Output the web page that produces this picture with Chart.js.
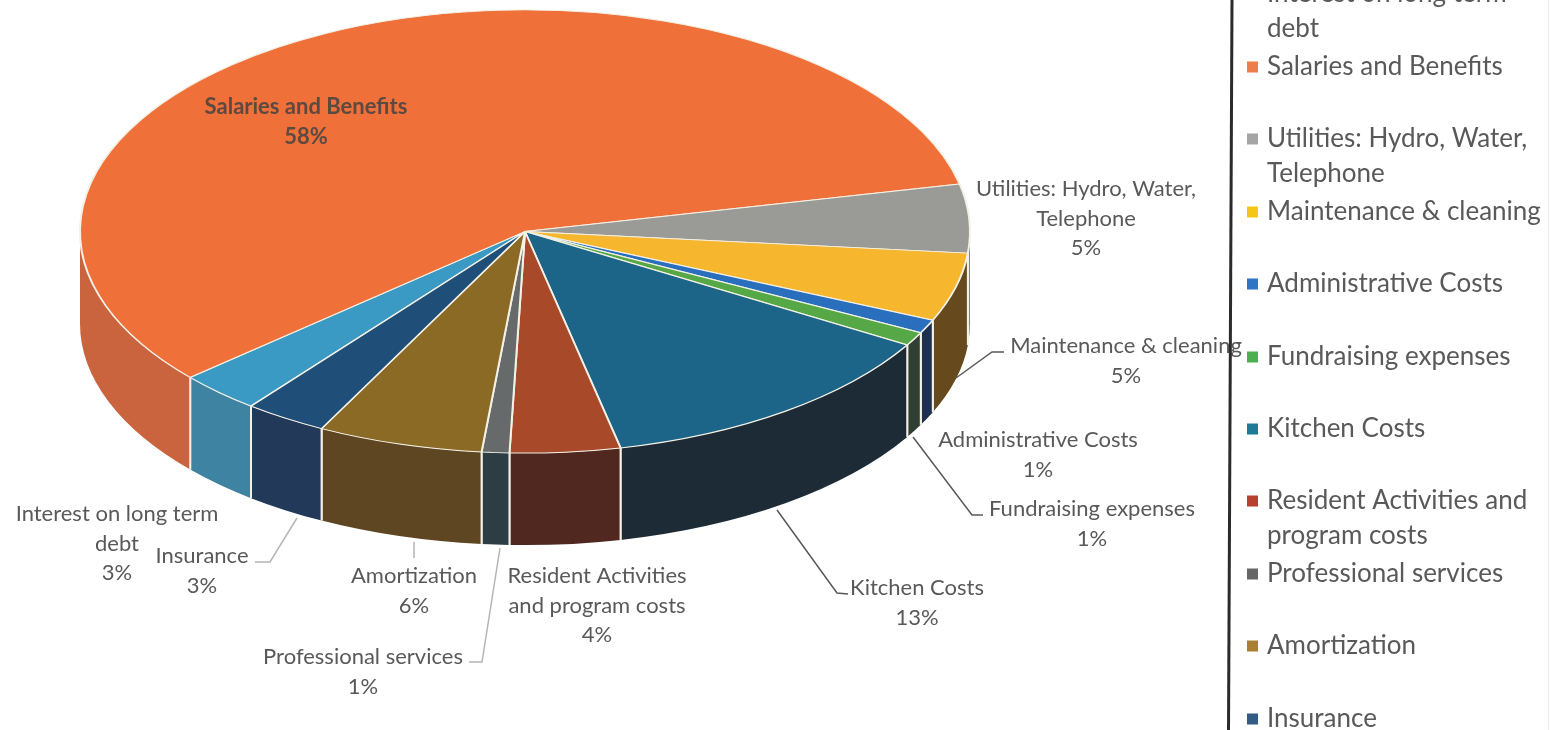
<!DOCTYPE html>
<html>
<head>
<meta charset="utf-8">
<title>Operating costs</title>
<script src="https://cdn.jsdelivr.net/npm/chart.js@4/dist/chart.umd.min.js"></script>
<style>
	html, body { margin: 0; padding: 0; background: #fff; overflow: hidden; }
	canvas { display: block; }
</style>
</head>
<body>
<canvas id="graph-costs" width="1550" height="730"></canvas>
<script>
// ** DATA: ** //

var categories = ['Interest on long term debt', 'Salaries and Benefits', 'Utilities: Hydro, Water, Telephone',
	'Maintenance & cleaning', 'Administrative Costs', 'Fundraising expenses', 'Kitchen Costs',
	'Resident Activities and program costs', 'Professional services', 'Amortization', 'Insurance'];
var percents = [3, 58, 5, 5, 1, 1, 13, 4, 1, 6, 3];

var topColors = ['#3a9ac3', '#f0703a', '#9a9a96', '#f6b62e', '#2a6fbd', '#55a845', '#1c6488', '#a8492a', '#666a6a', '#8a6a24', '#1f4e79'];
var wallColors = ['#3f83a2', '#c9643f', '#85857f', '#664a1d', '#1d3050', '#2f3f33', '#1d2b36', '#50281f', '#2c3d44', '#5d4621', '#22395a'];
var legendColors = ['#5ab4e0', '#ed7d4a', '#a5a5a5', '#f5c518', '#2f75c5', '#4caf50', '#1f7a95', '#b8402f', '#666666', '#a98032', '#335c85'];

// ** LAYOUT: ** //

var pieCenterX = 525, pieCenterY = 231.5, pieRadius = 445, squash = 0.498, wallDepth = 92;

// wrapped text and line centres for the labels, in the same order as categories
var labelLines = [['Interest on long term', 'debt'], ['Salaries and Benefits'], ['Utilities: Hydro, Water,', 'Telephone'],
	['Maintenance & cleaning'], ['Administrative Costs'], ['Fundraising expenses'], ['Kitchen Costs'],
	['Resident Activities', 'and program costs'], ['Professional services'], ['Amortization'], ['Insurance']];
var labelX = [117, 306, 1086, 1126, 1038, 1092, 917, 597, 363, 414, 202];
var labelY = [514, 107, 189, 346, 440, 509, 588, 576, 657, 576, 556];

var leaders = [
	{color: '#595959', points: [[956, 378], [992, 352], [1004, 352]]},
	{color: '#595959', points: [[913, 437], [972, 515], [983, 515]]},
	{color: '#595959', points: [[777, 510], [837, 593], [848, 594]]},
	{color: '#b5b5b5', points: [[297, 518], [270, 562], [255, 562]]},
	{color: '#b5b5b5', points: [[414, 542], [414, 558]]},
	{color: '#b5b5b5', points: [[500, 548], [482, 662], [469, 662]]}
];

var legendLines = [['Interest on long term', 'debt'], ['Salaries and Benefits'], ['Utilities: Hydro, Water,', 'Telephone'],
	['Maintenance & cleaning'], ['Administrative Costs'], ['Fundraising expenses'], ['Kitchen Costs'],
	['Resident Activities and', 'program costs'], ['Professional services'], ['Amortization'], ['Insurance']];
var legendY = [-6, 67, 139, 212, 284, 357, 429, 501, 574, 646, 719];
var legendLineGap = 35;

// ** FUNCTIONS: ** //

function strokeEdge(ctx, arc, ry, angle) {
	var x = arc.x + arc.outerRadius * Math.cos(angle);
	var y = arc.y + ry * Math.sin(angle);
	ctx.beginPath();
	ctx.moveTo(x, y);
	ctx.lineTo(x, y + wallDepth);
	ctx.lineWidth = 2;
	ctx.strokeStyle = '#f4f1e6';
	ctx.stroke();
}

function drawWalls(chart) {
	var ctx = chart.ctx;
	var arcs = chart.getDatasetMeta(0).data;
	for (var i = 0; i < arcs.length; i++) {
		var arc = arcs[i];
		var ry = arc.outerRadius * squash;
		// only the part of a slice facing the viewer has a wall
		for (var turn = -1; turn <= 1; turn++) {
			var from = Math.max(arc.startAngle, turn * 2 * Math.PI);
			var to = Math.min(arc.endAngle, turn * 2 * Math.PI + Math.PI);
			if (to <= from) continue;
			ctx.beginPath();
			ctx.ellipse(arc.x, arc.y, arc.outerRadius, ry, 0, from, to);
			ctx.ellipse(arc.x, arc.y + wallDepth, arc.outerRadius, ry, 0, to, from, true);
			ctx.closePath();
			ctx.fillStyle = wallColors[i];
			ctx.fill();
			if (from === arc.startAngle) strokeEdge(ctx, arc, ry, from);
			if (to === arc.endAngle) strokeEdge(ctx, arc, ry, to);
		}
	}
}

function drawLeaders(ctx) {
	for (var i = 0; i < leaders.length; i++) {
		var pts = leaders[i].points;
		ctx.beginPath();
		ctx.moveTo(pts[0][0], pts[0][1]);
		for (var j = 1; j < pts.length; j++) {
			ctx.lineTo(pts[j][0], pts[j][1]);
		}
		ctx.strokeStyle = leaders[i].color;
		ctx.lineWidth = 1.5;
		ctx.stroke();
	}
}

function drawLabels(ctx) {
	ctx.textAlign = 'center';
	ctx.textBaseline = 'middle';
	for (var i = 0; i < categories.length; i++) {
		var lines = labelLines[i].concat(percents[i] + '%');
		var bold = i === 1;
		ctx.font = (bold ? 'bold ' : '') + '22px Lato';
		ctx.fillStyle = bold ? '#5c4a40' : '#595959';
		for (var j = 0; j < lines.length; j++) {
			ctx.fillText(lines[j], labelX[i], labelY[i] + j * 29.6);
		}
	}
}

function drawLegend(ctx) {
	// box edges first so the entries sit on top
	ctx.beginPath();
	ctx.moveTo(1232, 0);
	ctx.lineTo(1228.5, 730);
	ctx.strokeStyle = '#2b2b2b';
	ctx.lineWidth = 3;
	ctx.stroke();
	ctx.beginPath();
	ctx.moveTo(1548.5, 0);
	ctx.lineTo(1548.5, 730);
	ctx.strokeStyle = '#ececec';
	ctx.lineWidth = 1;
	ctx.stroke();

	ctx.textAlign = 'left';
	ctx.textBaseline = 'middle';
	ctx.font = '26px Lato';
	for (var i = 0; i < categories.length; i++) {
		ctx.fillStyle = legendColors[i];
		ctx.fillRect(1247, legendY[i] - 5.5, 11, 11);
		ctx.fillStyle = '#595959';
		for (var j = 0; j < legendLines[i].length; j++) {
			ctx.fillText(legendLines[i][j], 1267, legendY[i] + j * legendLineGap);
		}
	}
}

// tilts the flat pie into an ellipse and stands it on its walls
var tiltPlugin = {
	id: 'tilt',
	beforeDatasetsDraw: function(chart) {
		var ctx = chart.ctx;
		drawWalls(chart);
		ctx.save();
		ctx.translate(pieCenterX, pieCenterY);
		ctx.scale(1, squash);
		ctx.translate(-pieCenterX, -pieCenterY);
	},
	afterDatasetsDraw: function(chart) {
		chart.ctx.restore();
	}
};

var textPlugin = {
	id: 'costText',
	afterDraw: function(chart) {
		drawLeaders(chart.ctx);
		drawLabels(chart.ctx);
		drawLegend(chart.ctx);
	}
};

// ** ENTRY POINT: ** //

new Chart(document.getElementById('graph-costs'), {
	type: 'pie',
	data: {
		labels: categories,
		datasets: [{
			data: percents,
			backgroundColor: topColors,
			borderColor: '#f4f1e6',
			borderWidth: 2,
			radius: pieRadius,
			rotation: 218
		}]
	},
	options: {
		responsive: false,
		animation: false,
		events: [],
		layout: {padding: {left: 0, top: 0, right: 1550 - 2 * pieCenterX, bottom: 730 - 2 * pieCenterY}},
		plugins: {legend: {display: false}, tooltip: {enabled: false}}
	},
	plugins: [tiltPlugin, textPlugin]
});
</script>
</body>
</html>
